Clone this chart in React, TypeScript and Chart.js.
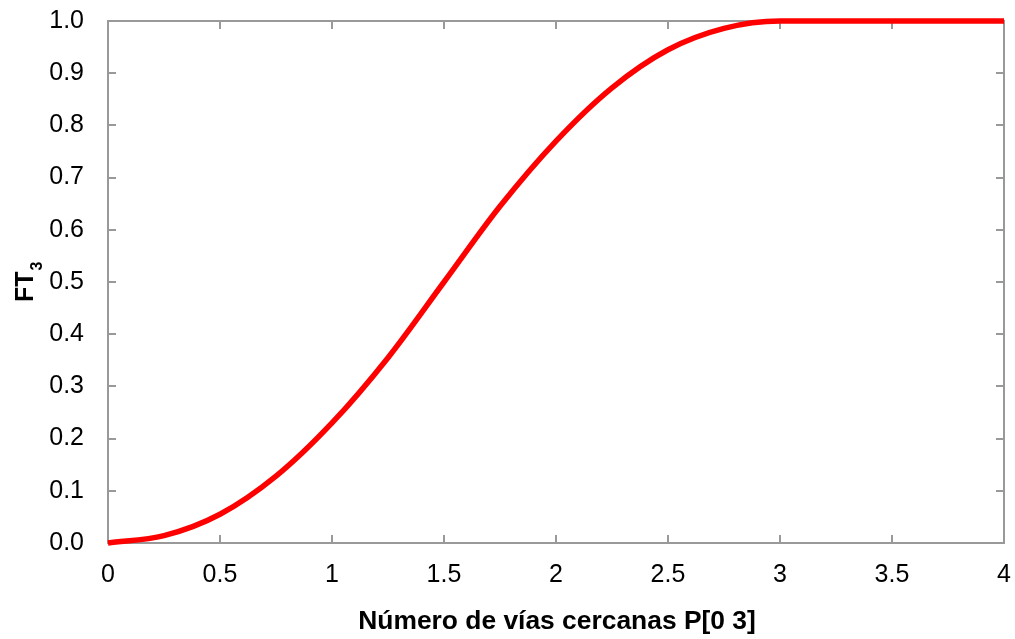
import React, { useEffect, useRef } from "react";
import { Chart, registerables } from "chart.js";

Chart.register(...registerables);

const xValues = [0, 0.25, 0.5, 0.75, 1, 1.25, 1.5, 1.75, 2, 2.25, 2.5, 2.75, 3, 3.5, 4];
const ft3Values = [0, 0.014, 0.055, 0.128, 0.23, 0.355, 0.5, 0.645, 0.77, 0.872, 0.945, 0.986, 1, 1, 1];
const xTickLabels: Record<string, string> = {
  "0": "0", "0.5": "0.5", "1": "1", "1.5": "1.5", "2": "2", "2.5": "2.5", "3": "3", "3.5": "3.5", "4": "4",
};
const xTitle = "Número de vías cercanas P[0 3]";
const yTitleMain = "FT";
const yTitleSub = "3";

const FONT = "'Liberation Sans', Arial, sans-serif";
const FRAME = "#999999";

const zeroPad = (s: any) => {
  s.paddingTop = 0;
  s.paddingBottom = 0;
  s.paddingLeft = 0;
  s.paddingRight = 0;
};

const framePlugin = {
  id: "frameAndTicks",
  beforeDatasetsDraw(chart: any) {
    const { ctx, chartArea, scales } = chart;
    const { left, right, top, bottom } = chartArea;
    ctx.save();
    ctx.strokeStyle = FRAME;
    ctx.lineWidth = 2;
    ctx.strokeRect(left, top, right - left, bottom - top);
    const tl = 8;
    ctx.beginPath();
    scales.x.ticks.forEach((t: any) => {
      const px = Math.round(scales.x.getPixelForValue(t.value));
      ctx.moveTo(px, bottom);
      ctx.lineTo(px, bottom - tl);
      ctx.moveTo(px, top);
      ctx.lineTo(px, top + tl);
    });
    scales.y.ticks.forEach((t: any) => {
      const py = Math.round(scales.y.getPixelForValue(t.value));
      ctx.moveTo(left, py);
      ctx.lineTo(left + tl, py);
      ctx.moveTo(right, py);
      ctx.lineTo(right - tl, py);
    });
    ctx.stroke();
    ctx.restore();
  },
  afterDraw(chart: any) {
    const { ctx } = chart;
    ctx.save();
    ctx.fillStyle = "#000";
    ctx.font = `bold 26.4px ${FONT}`;
    ctx.textAlign = "center";
    ctx.textBaseline = "alphabetic";
    ctx.fillText(xTitle, 557, 629);
    // y title rotated
    ctx.translate(33, 302);
    ctx.rotate(-Math.PI / 2);
    ctx.textAlign = "left";
    ctx.font = `bold 25px ${FONT}`;
    ctx.fillText(yTitleMain, 0, 0);
    const w = ctx.measureText(yTitleMain).width;
    ctx.font = `bold 16px ${FONT}`;
    ctx.fillText(yTitleSub, w + 1, 9);
    ctx.restore();
  },
};

export default function App() {
  const ref = useRef<HTMLCanvasElement | null>(null);
  useEffect(() => {
    if (!ref.current) return;
    const chart = new Chart(ref.current, {
      type: "line",
      data: {
        datasets: [
          {
            data: xValues.map((x, i) => ({ x, y: ft3Values[i] })),
            borderColor: "#ff0000",
            borderWidth: 5.5,
            pointRadius: 0,
            fill: false,
            cubicInterpolationMode: "monotone",
            clip: 6,
          },
        ],
      },
      options: {
        animation: false,
        responsive: false,
        maintainAspectRatio: false,
        layout: { padding: { left: 0, top: 21, right: 11, bottom: 0 } },
        plugins: { legend: { display: false }, tooltip: { enabled: false } },
        scales: {
          x: {
            type: "linear",
            min: 0,
            max: 4,
            grid: { display: false, drawTicks: false },
            border: { display: false },
            ticks: {
              stepSize: 0.5,
              padding: 17,
              color: "#000",
              font: { family: FONT, size: 25 },
              maxRotation: 0,
              autoSkip: false,
              callback: (v: any) => xTickLabels[String(Number(v))] ?? String(v),
            },
            afterFit: (s: any) => {
              s.height = 96;
              zeroPad(s);
            },
          },
          y: {
            type: "linear",
            min: 0,
            max: 1,
            grid: { display: false, drawTicks: false },
            border: { display: false },
            ticks: {
              stepSize: 0.1,
              padding: 24,
              color: "#000",
              font: { family: FONT, size: 25 },
              callback: (v: any) => Number(v).toFixed(1),
            },
            afterFit: (s: any) => {
              s.width = 108;
              zeroPad(s);
            },
          },
        },
      },
      plugins: [framePlugin],
    });
    return () => chart.destroy();
  }, []);
  return (
    <div style={{ position: "absolute", left: 0, top: 0, width: 1015, height: 639, background: "#fff" }}>
      <canvas ref={ref} width={1015} height={639} style={{ display: "block" }} />
    </div>
  );
}
